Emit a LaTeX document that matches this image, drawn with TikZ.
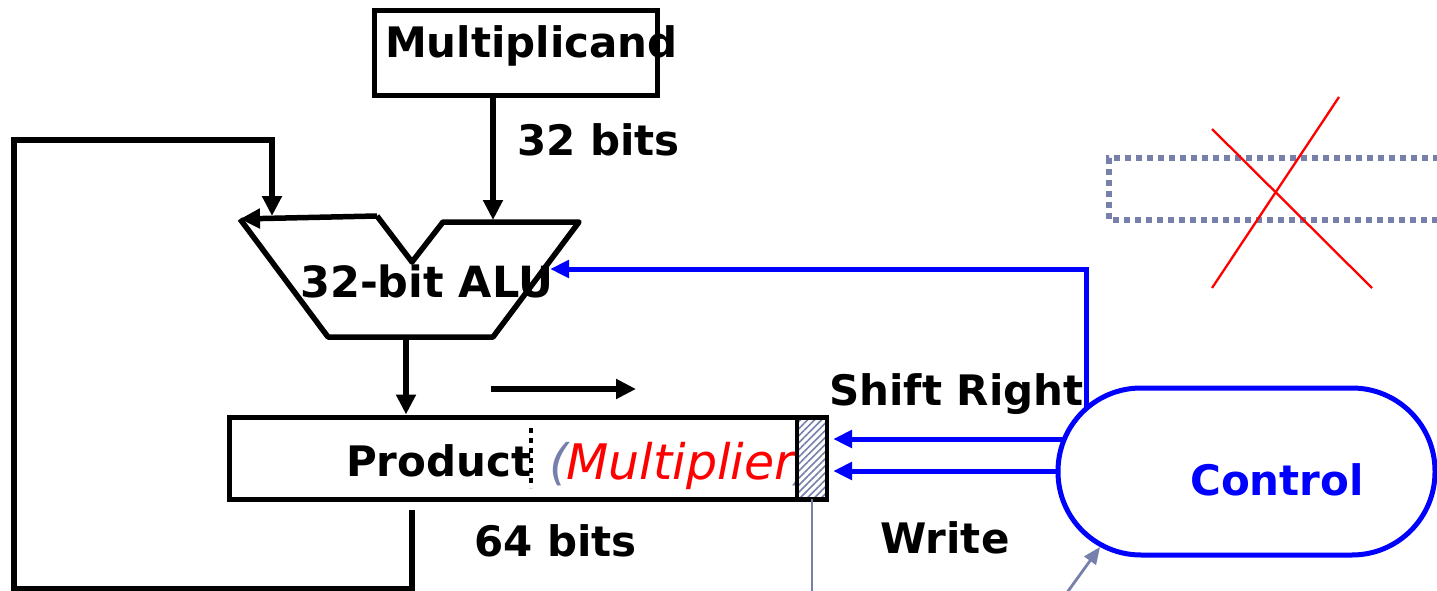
\documentclass[tikz,border=0pt]{standalone}
\usepackage{fontspec}
\setmainfont{DejaVu Sans}
\usetikzlibrary{arrows.meta,patterns.meta,calc}
\definecolor{ctlblue}{RGB}{0,0,255}
\definecolor{xred}{RGB}{255,0,0}
\definecolor{slate}{RGB}{118,128,170}
\newcommand{\bigbold}{\fontsize{42}{48}\selectfont\bfseries}
\newcommand{\bigital}{\fontsize{49}{55}\selectfont\itshape}

\begin{document}
\begin{tikzpicture}[x=1pt,y=-1pt,
  wire/.style={line width=5.5pt, black, line join=miter},
  tip/.style={-{Triangle[length=20pt,width=19pt]}},
  btip/.style={-{Triangle[length=19pt,width=17pt]}},
  ctl/.style={line width=5pt, ctlblue},
  lbl/.style={anchor=base west, inner sep=0pt, font=\bigbold},
  boxnode/.style={draw, line width=5pt, inner sep=0pt}]
\useasboundingbox (0,0) rectangle (1437,591);
\clip (0,0) rectangle (1437,591);

% disabled register, crossed out
\draw[slate, line width=6pt, dash pattern=on 6pt off 5pt] (1450,158) -- (1109,158) -- (1109,220) -- (1450,220);
\draw[xred, line width=2.3pt] (1212,129) -- (1372,288);
\draw[xred, line width=2.3pt] (1212,288) -- (1339,97);

% multiplicand register
\node[boxnode, minimum width=283pt, minimum height=85pt] (mcand) at (515.5,53.5) {};
\node[lbl] (mcandtxt) at (385,58) {Multiplicand};
\coordinate (aluB) at (493,220);
\draw[wire, tip] (mcand.south -| aluB) -- (aluB);
\node[lbl] (w32) at (517,155) {32 bits};

% ALU outline
\coordinate (aluTL) at (240,219);
\coordinate (aluN1) at (377,216);
\coordinate (aluV) at (412,262);
\coordinate (aluN2) at (443,222);
\coordinate (aluTR) at (579,222);
\coordinate (aluBR) at (493,337);
\coordinate (aluBL) at (328,337);
\draw[wire, line join=round] (aluN1) -- (aluV) -- (aluN2) -- (aluTR) -- (aluBR) -- (aluBL) -- (aluTL);
\draw[wire, tip] (aluN1) -- (aluTL);
\node[lbl, font=\fontsize{43}{49}\selectfont\bfseries] (alutxt) at (300,297) {32-bit ALU};

% product register
\node[boxnode, minimum width=597pt, minimum height=82pt] (prod) at (527.5,458) {};
\coordinate (aluOut) at (406,337);
\draw[wire, tip] (aluOut) -- (aluOut |- prod.north);

% feedback from product to ALU
\coordinate (tap) at (412,510);
\coordinate (aluA) at (272,216);
\draw[wire, tip] (tap) -- (412,589) -- (14,589) -- (14,140) -- (272,140) -- (aluA);

% shift direction
\coordinate (sh1) at (491,389);
\coordinate (sh2) at (636,389);
\draw[wire, tip] (sh1) -- (sh2);

% product contents
\coordinate (div1) at (531,428);
\coordinate (div2) at (531,488);
\draw[line width=4.5pt, dash pattern=on 5pt off 5pt] (div1) -- (div2);
\node[lbl] (prodtxt) at (346,476) {Product};
\node[anchor=base west, inner sep=0pt, font=\bigital, text=slate] (lpar) at (549,479) {(};
\node[anchor=base west, inner sep=0pt, font=\bigital, text=xred] (mplier) at (566,479) {Multiplier};
\node[anchor=base west, inner sep=0pt, font=\bigital, text=slate] (rpar) at (mplier.base east) {)};

% least significant bit
\node[boxnode, line width=4pt, minimum width=30pt, minimum height=81pt,
      preaction={fill=white},
      pattern={Lines[angle=45,distance=5pt,line width=1.6pt]}, pattern color=slate] (lsb) at (812,458) {};
\draw[slate, line width=2.2pt] (lsb.south) -- (lsb.south |- 0,600);

% control unit
\node[draw=ctlblue, line width=5pt, rounded corners=83pt, minimum width=377pt, minimum height=167pt, inner sep=0pt] (ctrl) at (1246.5,471.5) {};
\node[lbl, text=ctlblue] (ctrltxt) at (1190,495) {Control};

\coordinate (shTop) at (1086,409);
\coordinate (aluIn) at (550,269);
\draw[ctl, btip] (shTop) -- (shTop |- aluIn) -- (aluIn);
\coordinate (c1) at (1065,439);
\coordinate (c2) at (1058,471);
\draw[ctl, btip] (c1) -- (c1 -| 833,0);
\draw[ctl, btip] (c2) -- (c2 -| 833,0);

\coordinate (inTail) at (1066,594);
\coordinate (inHead) at (1100,547);
\draw[slate, line width=2.8pt, -{Triangle[length=17pt,width=14pt]}] (inTail) -- (inHead);

% signal labels
\node[lbl] (shtxt) at (829,405) {Shift Right};
\node[lbl] (wrtxt) at (880,553) {Write};
\node[lbl] (w64) at (474,556) {64 bits};
\end{tikzpicture}
\end{document}
